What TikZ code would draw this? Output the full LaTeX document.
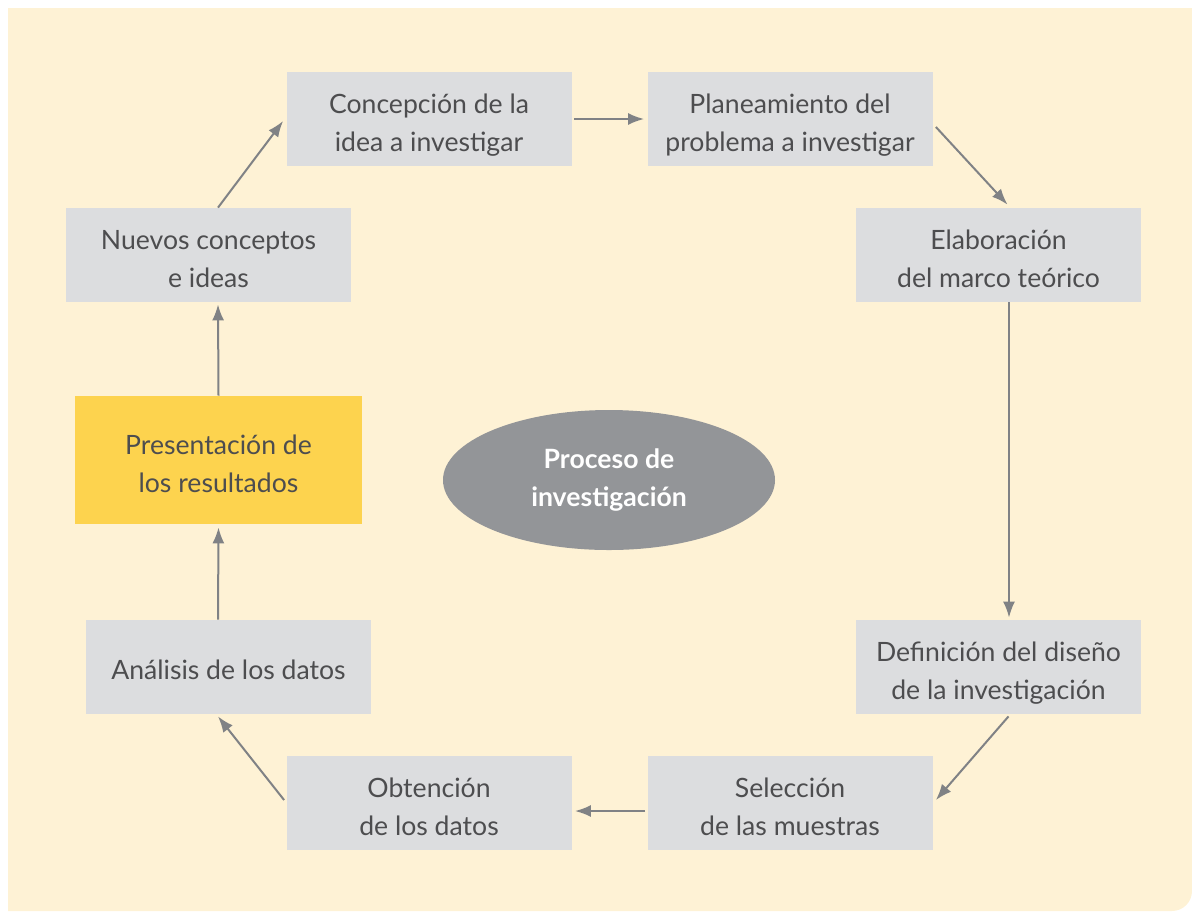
\documentclass[tikz,border=0pt]{standalone}
\usepackage{fontspec}
\setmainfont{Lato}
\usetikzlibrary{arrows.meta,shapes.geometric}
\definecolor{fondo}{RGB}{254,242,213}
\definecolor{caja}{RGB}{220,221,223}
\definecolor{amarillo}{RGB}{253,211,78}
\definecolor{elipse}{RGB}{147,149,152}
\definecolor{flecha}{RGB}{128,130,133}
\definecolor{texto}{RGB}{77,77,79}
\tikzset{
  paso/.style={fill=caja,minimum width=142.5pt,minimum height=47pt,align=center,text=texto,font=\fontsize{13.3}{19}\selectfont,inner sep=0pt,text height=32pt,text depth=0pt},
  flujo/.style={->,draw=flecha,line width=1pt}
}
\begin{document}
\begin{tikzpicture}[x=0.5pt,y=-0.5pt,>={Latex[length=8pt,width=6pt]}]
		\useasboundingbox (0,0) rectangle (1192,911);
		\fill[fondo] (8,8)--(1192,8)--(1192,891) arc[start angle=0,end angle=-90,x radius=20,y radius=-20]--(8,911)--cycle;
		% cajas del ciclo
		\node[paso] (concepcion) at (429,119) {Concepción de la\\idea a investigar};
		\node[paso] (planeamiento) at (790,119) {Planeamiento del\\problema a investigar};
		\node[paso] (elaboracion) at (998.5,255) {Elaboración\\del marco teórico};
		\node[paso] (definicion) at (998.5,667) {Definición del diseño\\de la investigación};
		\node[paso] (seleccion) at (790,803) {Selección\\de las muestras};
		\node[paso] (obtencion) at (429,803) {Obtención\\de los datos};
		\node[paso,text height=12pt] (analisis) at (228.5,667) {Análisis de los datos};
		\node[paso,fill=amarillo,minimum width=143.5pt,minimum height=64pt] (presentacion) at (218.5,460) {Presentación de\\los resultados};
		\node[paso] (nuevos) at (208.5,255) {Nuevos conceptos\\e ideas};
		% centro
		\node[ellipse,fill=elipse,minimum width=166pt,minimum height=70pt,inner sep=0pt,text=white,align=center,font=\fontsize{13.3}{19}\selectfont\bfseries] (proceso) at (609,480) {Proceso de\\investigación};
		% flechas
		\draw[flujo] ([shift={(2,0)}]concepcion.east)--([shift={(-3,0)}]planeamiento.west);
		\draw[flujo] ([shift={(3,8)}]planeamiento.east)--([shift={(9,-3)}]elaboracion.north);
		\draw[flujo] ([shift={(10.5,0)}]elaboracion.south)--([shift={(10.5,-2)}]definicion.north);
		\draw[flujo] ([shift={(10,2)}]definicion.south)--([shift={(3,-3)}]seleccion.east);
		\draw[flujo] ([shift={(-2,8)}]seleccion.west)--([shift={(3,8)}]obtencion.east);
		\draw[flujo] ([shift={(-2,-3)}]obtencion.west)--([shift={(-10.5,2)}]analisis.south);
		\draw[flujo] ([shift={(-10.5,0)}]analisis.north)--([shift={(0,3)}]presentacion.south);
		\draw[flujo] (presentacion.north)--([shift={(9.5,2)}]nuevos.south);
		\draw[flujo] ([shift={(9.5,0)}]nuevos.north)--([shift={(-3,2)}]concepcion.west);
	\end{tikzpicture}
\end{document}
